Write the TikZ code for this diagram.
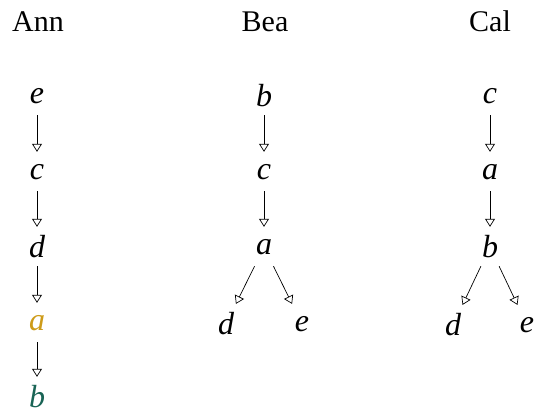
\documentclass[tikz,border=0pt]{standalone}
\usepackage{fontspec}
\setmainfont{Liberation Serif}
\usetikzlibrary{arrows.meta}
\definecolor{ochre}{RGB}{205,155,25}
\definecolor{pine}{RGB}{25,100,85}
\tikzset{
  person/.style={font=\fontsize{30}{36}\selectfont, inner sep=0pt},
  letter/.style={font=\fontsize{32}{36}\selectfont\itshape, inner sep=0pt,
    minimum width=20pt, minimum height=38pt},
  pointer/.style={-{Triangle[open,length=8pt,width=10pt]}, line width=0.7pt,
    shorten >=1pt},
}
\begin{document}
\begin{tikzpicture}[x=1pt,y=-1pt]
  \useasboundingbox (0,0) rectangle (534,412);
  % names
  \node[person,anchor=base] (ann) at (38,32) {Ann};
  \node[person,anchor=base] (bea) at (265,32) {Bea};
  \node[person,anchor=base] (cal) at (490,32) {Cal};
  % Ann
  \node[letter] (ae) at (37,96) {e};
  \node[letter] (ac) at (37,172) {c};
  \node[letter] (ad) at (37,247) {d};
  \node[letter,text=ochre] (aa) at (37,323) {a};
  \node[letter,text=pine] (ab) at (37,397) {b};
  \draw[pointer] (ae) -- (ac);
  \draw[pointer] (ac) -- (ad);
  \draw[pointer] (ad) -- (aa);
  \draw[pointer] (aa) -- (ab);
  % Bea
  \node[letter] (bb) at (264,96) {b};
  \node[letter] (bc) at (264,172) {c};
  \node[letter] (ba) at (264,247) {a};
  \node[letter] (bd) at (226,324) {d};
  \node[letter] (be) at (302,324) {e};
  \draw[pointer] (bb) -- (bc);
  \draw[pointer] (bc) -- (ba);
  \draw[pointer] (ba) -- (bd);
  \draw[pointer] (ba) -- (be);
  % Cal
  \node[letter] (cc) at (490,96) {c};
  \node[letter] (ca) at (490,172) {a};
  \node[letter] (cb) at (490,247) {b};
  \node[letter] (cd) at (453,325) {d};
  \node[letter] (ce) at (527,325) {e};
  \draw[pointer] (cc) -- (ca);
  \draw[pointer] (ca) -- (cb);
  \draw[pointer] (cb) -- (cd);
  \draw[pointer] (cb) -- (ce);
\end{tikzpicture}
\end{document}
